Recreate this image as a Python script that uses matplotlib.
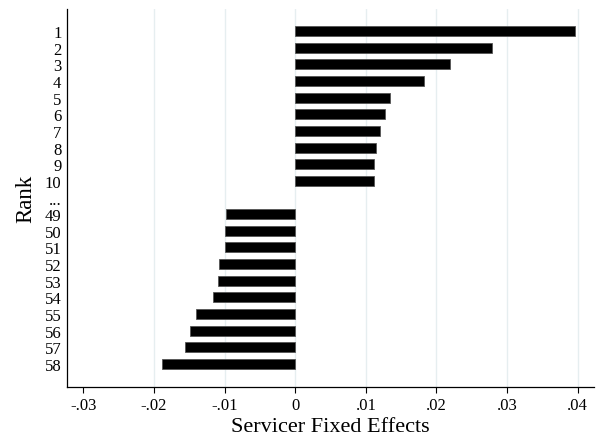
import numpy as np
import matplotlib
matplotlib.use('Agg')
import matplotlib.pyplot as plt

# rank labels and servicer fixed effects
top_ranks = ['1', '2', '3', '4', '5', '6', '7', '8', '9', '10']
top_effects = [0.0396, 0.0278, 0.0219, 0.0183, 0.0134, 0.0127, 0.0120, 0.0115, 0.0112, 0.0111]
bottom_ranks = ['49', '50', '51', '52', '53', '54', '55', '56', '57', '58']
bottom_effects = [-0.0098, -0.0099, -0.0100, -0.0108, -0.0109, -0.0116, -0.0140, -0.0149, -0.0156, -0.0188]
xticks = [-0.03, -0.02, -0.01, 0, 0.01, 0.02, 0.03, 0.04]
xtick_labels = ['-.03', '-.02', '-.01', '0', '.01', '.02', '.03', '.04']

plt.rcParams['font.family'] = ['Liberation Serif', 'DejaVu Serif']

labels = top_ranks + ['...'] + bottom_ranks
effects = top_effects + [np.nan] + bottom_effects
pos = np.arange(len(labels))

fig = plt.figure(figsize=(6.02, 4.39), dpi=100)
ax = fig.add_axes([0.1113, 0.1162, 0.8754, 0.8608])

for g in xticks[1:]:
    ax.axvline(g, color='#e6eef0', lw=1.0, zorder=0)

ax.barh(pos, effects, height=0.6, color='black', edgecolor='#555555', linewidth=0.6, zorder=2)

ax.set_ylim(len(labels) - 1 + 1.38, -1.32)
ax.set_xlim(-0.0323, 0.0423)
ax.set_yticks(pos)
ax.set_yticklabels(labels)
ax.set_xticks(xticks)
ax.set_xticklabels(xtick_labels)
ax.tick_params(axis='y', length=0, pad=4, labelsize=12)
ax.tick_params(axis='x', length=4, width=0.8, pad=3, labelsize=12)

for s in ['top', 'right']:
    ax.spines[s].set_visible(False)
for s in ['left', 'bottom']:
    ax.spines[s].set_linewidth(0.9)

ax.set_xlabel('Servicer Fixed Effects', fontsize=16, labelpad=3)
ax.set_ylabel('Rank', fontsize=16.5, labelpad=6)

fig.savefig('out.png', dpi=100)
